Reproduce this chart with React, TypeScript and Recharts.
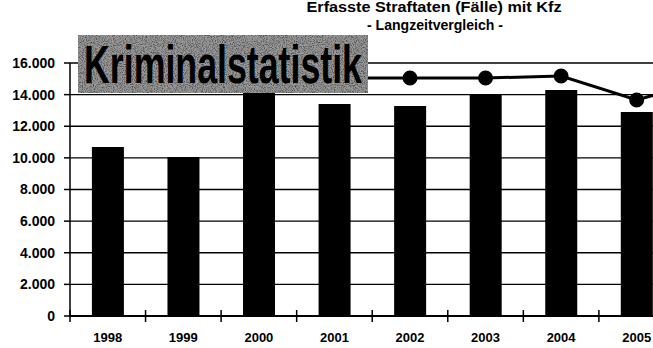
import {
  ComposedChart,
  Bar,
  Line,
  XAxis,
  YAxis,
  CartesianGrid,
} from "recharts";

// values (German thousands separator)
const years = ["1998", "1999", "2000", "2001", "2002", "2003", "2004", "2005", "2006"];
const faelle = [10690, 10050, 14600, 13400, 13280, 13980, 14290, 12900, null];
const gesamt = [null, null, null, 15050, 15050, 15050, 15180, 13660, 15000];
const yTicks = [0, 2000, 4000, 6000, 8000, 10000, 12000, 14000, 16000];

const title = "Erfasste Straftaten (Fälle) mit Kfz";
const subtitle = "- Langzeitvergleich -";
const banner = "Kriminalstatistik";

const rows = years.map((year, i) => ({
  year,
  faelle: faelle[i],
  gesamt: gesamt[i],
}));

const fmt = (v: number) => v.toLocaleString("de-DE");

const XTick = (props: any) => {
  const { x, y, payload } = props;
  const off = payload?.offset ?? 37.8;
  return (
    <g>
      <line x1={x - off} x2={x - off} y1={y - 6} y2={y + 6} stroke="#000" strokeWidth={1.5} />
      <text
        x={x}
        y={y + 26}
        textAnchor="middle"
        fontSize={13}
        fontWeight="bold"
        fontFamily="'Liberation Sans', Arial, sans-serif"
        fill="#000"
      >
        {payload.value}
      </text>
    </g>
  );
};

export default function App() {
  return (
    <div
      style={{
        position: "absolute",
        left: 0,
        top: 0,
        width: 653,
        height: 348,
        overflow: "hidden",
        background: "#fff",
      }}
    >
      <ComposedChart
        width={750}
        height={348}
        data={rows}
        margin={{ top: 63, right: 0, bottom: 2, left: 0 }}
        barCategoryGap="29%"
      >
        <CartesianGrid vertical={false} stroke="#000" strokeWidth={1.3} />
        <XAxis
          dataKey="year"
          height={30}
          tickLine={false}
          tickSize={0}
          tickMargin={0}
          tick={<XTick />}
          interval={0}
          axisLine={{ stroke: "#000", strokeWidth: 2 }}
        />
        <YAxis
          width={70}
          domain={[0, 16000]}
          ticks={yTicks}
          tickFormatter={fmt}
          tickSize={6}
          tickMargin={9}
          axisLine={{ stroke: "#000", strokeWidth: 1.5 }}
          tickLine={{ stroke: "#000", strokeWidth: 1.5 }}
          tick={{
            fill: "#000",
            fontSize: 14,
            fontWeight: "bold",
            fontFamily: "'Liberation Sans', Arial, sans-serif",
          }}
        />
        <Bar dataKey="faelle" fill="#000" isAnimationActive={false} />
        <Line
          type="linear"
          dataKey="gesamt"
          stroke="#000"
          strokeWidth={3}
          dot={{ r: 6, fill: "#000", stroke: "#000" }}
          isAnimationActive={false}
        />
      </ComposedChart>

      <svg
        width={653}
        height={348}
        style={{ position: "absolute", left: 0, top: 0, pointerEvents: "none" }}
      >
        <defs>
          <filter id="speckle" x="0" y="0" width="100%" height="100%">
            <feTurbulence type="fractalNoise" baseFrequency="0.9" numOctaves={2} seed={3} />
            <feColorMatrix
              type="matrix"
              values="0 0 0 0 0  0 0 0 0 0  0 0 0 0 0  0 0 0 -2.2 1.3"
            />
          </filter>
        </defs>
        <text
          x={434}
          y={12}
          textAnchor="middle"
          fontSize={14}
          fontWeight="bold"
          fontFamily="'Liberation Sans', Arial, sans-serif"
          textLength={255}
          lengthAdjust="spacingAndGlyphs"
          fill="#000"
        >
          {title}
        </text>
        <text
          x={435}
          y={30}
          textAnchor="middle"
          fontSize={14}
          fontWeight="bold"
          fontFamily="'Liberation Sans Narrow', 'Liberation Sans', Arial, sans-serif"
          textLength={136}
          lengthAdjust="spacingAndGlyphs"
          fill="#000"
        >
          {subtitle}
        </text>
        <g>
          <rect x={78} y={35} width={290} height={58} fill="#9a9a9a" />
          <rect x={78} y={35} width={290} height={58} fill="#fff" filter="url(#speckle)" opacity={0.6} />
          <text
            x={84}
            y={83}
            fontSize={54}
            fontWeight="bold"
            fontFamily="'Liberation Sans Narrow', 'Liberation Sans', Arial, sans-serif"
            textLength={278}
            lengthAdjust="spacingAndGlyphs"
            fill="#000"
          >
            {banner}
          </text>
        </g>
      </svg>
    </div>
  );
}
